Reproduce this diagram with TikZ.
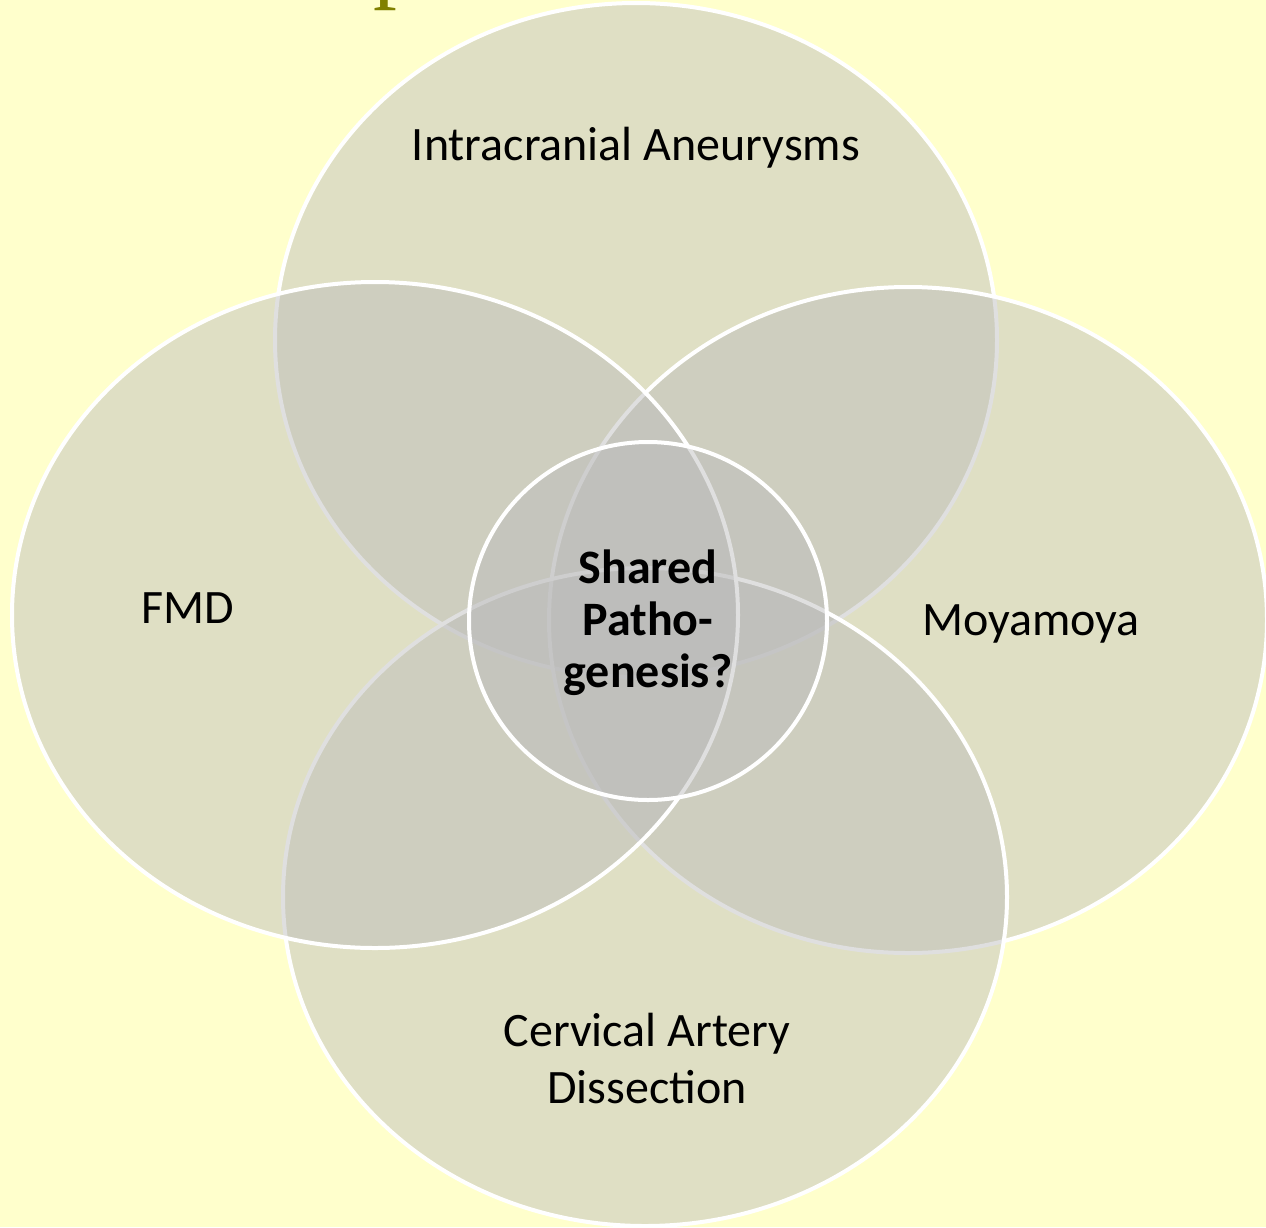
\documentclass[tikz,border=0pt]{standalone}
\usepackage{fontspec}
\setmainfont{Carlito}
\newfontfamily\titlefont{Liberation Serif}
\definecolor{bgyellow}{RGB}{255,255,204}
\definecolor{vennfill}{RGB}{187,187,187}
\definecolor{titleolive}{RGB}{128,128,0}
\begin{document}
\begin{tikzpicture}[x=1pt,y=-1pt,
  venn/.style={fill=vennfill,fill opacity=0.47,draw=white,draw opacity=1,line width=4pt},
  lbl/.style={font=\fontsize{48}{57}\selectfont,align=center,inner sep=0pt,text=black},
  ctr/.style={font=\fontsize{48}{52}\selectfont\bfseries,align=center,inner sep=0pt,text=black}]
\useasboundingbox (0,0) rectangle (1266,1227);
\fill[bgyellow] (0,0) rectangle (1266,1227);
\clip (0,0) rectangle (1266,1227);
% partial title glyph cut at the top
\node[anchor=base west,inner sep=0pt,text=titleolive,font=\titlefont\fontsize{95}{100}\selectfont] (title) at (373,-10) {p};
% ellipses: top, right, bottom, left
\draw[venn] (636,340) ellipse [x radius=361, y radius=337];
\draw[venn] (908,620) ellipse [x radius=359, y radius=333];
\draw[venn] (645,897) ellipse [x radius=362, y radius=329];
\draw[venn] (375,615) ellipse [x radius=363, y radius=333];
% centre circle
\draw[venn] (648,621) circle [radius=179];
% labels
\node[lbl] (ia) at (636,148) {Intracranial Aneurysms};
\node[lbl] (fmd) at (188,608) {FMD};
\node[lbl] (moy) at (1031,624) {Moyamoya};
\node[lbl] (cad) at (647,1058) {Cervical Artery\\ Dissection};
\node[ctr] (shared) at (648,623) {Shared\\ Patho-\\ genesis?};
\end{tikzpicture}
\end{document}
